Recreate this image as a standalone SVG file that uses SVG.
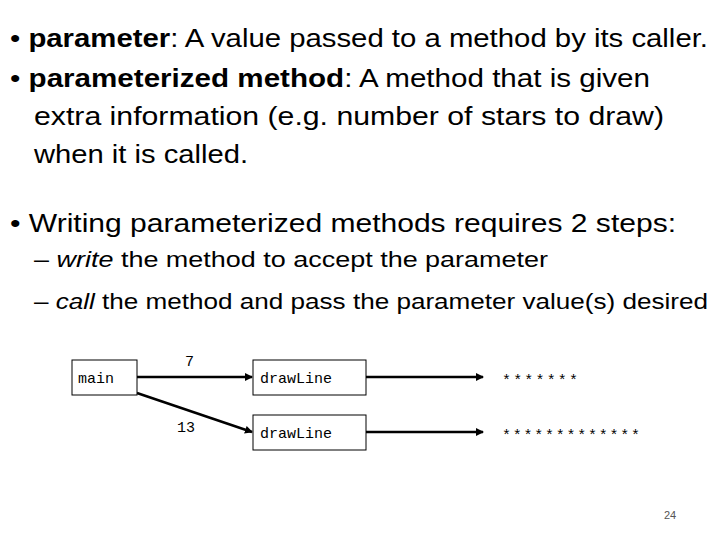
<svg xmlns="http://www.w3.org/2000/svg" width="720" height="540" viewBox="0 0 720 540">
<style>
.t{font-family:"Liberation Sans",Arial,sans-serif;font-size:25px;fill:#000}
.s{font-family:"Liberation Sans",Arial,sans-serif;font-size:22px;fill:#000}
.m{font-family:"Liberation Mono","Courier New",monospace;font-size:15px;fill:#000}
.b{fill:#fff;stroke:#000;stroke-width:1}
.c{stroke:#000;stroke-width:2.5;fill:none;marker-end:url(#a)}
</style>
<defs><marker id="a" markerWidth="8" markerHeight="8" refX="7" refY="4" orient="auto" markerUnits="userSpaceOnUse"><path d="M0,0 L8,4 L0,8 z" fill="#000"/></marker></defs>
<rect width="720" height="540" fill="#fff"/>
<text class="t" x="10" y="47" textLength="698" lengthAdjust="spacingAndGlyphs">• <tspan font-weight="bold">parameter</tspan>: A value passed to a method by its caller.</text>
<text class="t" x="10" y="87" textLength="640" lengthAdjust="spacingAndGlyphs">• <tspan font-weight="bold">parameterized method</tspan>: A method that is given</text>
<text class="t" x="34" y="125" textLength="630" lengthAdjust="spacingAndGlyphs">extra information (e.g. number of stars to draw)</text>
<text class="t" x="34" y="163" textLength="214" lengthAdjust="spacingAndGlyphs">when it is called.</text>
<text class="t" x="10" y="232" textLength="666" lengthAdjust="spacingAndGlyphs">• Writing parameterized methods requires 2 steps:</text>
<text class="s" x="34" y="267" textLength="514" lengthAdjust="spacingAndGlyphs">– <tspan font-style="italic">write</tspan> the method to accept the parameter</text>
<text class="s" x="34" y="309" textLength="674" lengthAdjust="spacingAndGlyphs">– <tspan font-style="italic">call</tspan> the method and pass the parameter value(s) desired</text>
<g id="connectors">
<line class="c" x1="137" y1="377" x2="252" y2="377"/>
<line class="c" x1="137" y1="393" x2="252" y2="432"/>
<line class="c" x1="366" y1="377" x2="483" y2="377"/>
<line class="c" x1="366" y1="432" x2="483" y2="432"/>
<text class="m" x="185" y="366" font-size="16">7</text>
<text class="m" x="177" y="432" font-size="16">13</text>
</g>
<g id="main"><rect class="b" x="72" y="360" width="65" height="35"/><text class="m" x="78" y="383">main</text></g>
<g id="drawLine1"><rect class="b" x="253" y="360" width="113" height="35"/><text class="m" x="260" y="383">drawLine</text></g>
<g id="drawLine2"><rect class="b" x="253" y="415" width="113" height="35"/><text class="m" x="260" y="438">drawLine</text></g>
<g id="out1"><text class="m" x="502" y="385" textLength="76" lengthAdjust="spacing">*******</text></g>
<g id="out2"><text class="m" x="502" y="440" textLength="138" lengthAdjust="spacing">*************</text></g>
<text x="664" y="519" font-family="Liberation Sans,Arial,sans-serif" font-size="11" fill="#555">24</text>
</svg>
